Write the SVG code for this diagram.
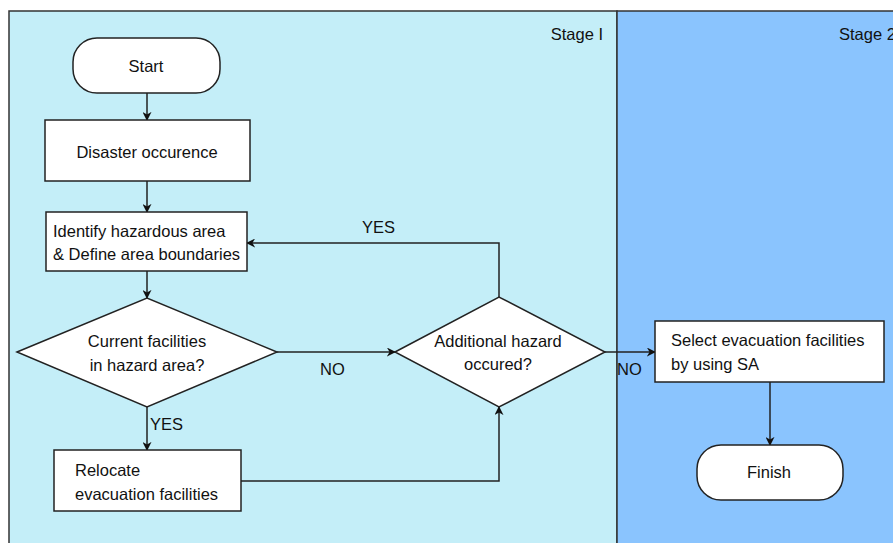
<svg xmlns="http://www.w3.org/2000/svg" width="893" height="543" viewBox="0 0 893 543">
<style>
text{font-family:"Liberation Sans",Arial,sans-serif;font-size:16.5px;fill:#111}
.c{text-anchor:middle}
.n{fill:#fff;stroke:#222;stroke-width:1.5}
.e{fill:none;stroke:#222;stroke-width:1.5}
</style>
<defs>
<marker id="a" viewBox="0 0 10 10" refX="9" refY="5" markerWidth="9" markerHeight="9" markerUnits="userSpaceOnUse" orient="auto">
<path d="M0,0 L10,5 L0,10 L3,5 z" fill="#111"/>
</marker>
</defs>
<rect width="893" height="543" fill="#fff"/>
<g id="lanes">
<rect x="9" y="11" width="608" height="540" fill="#C4EEF8" stroke="#333" stroke-width="1.5"/>
<rect x="617" y="11" width="290" height="540" fill="#8AC4FE" stroke="#333" stroke-width="1.5"/>
<text x="603" y="40" text-anchor="end">Stage I</text>
<text x="839" y="40">Stage 2</text>
</g>
<g id="edges">
<path class="e" d="M147,93 V120" marker-end="url(#a)"/>
<path class="e" d="M147,181 V212" marker-end="url(#a)"/>
<path class="e" d="M147,271 V298" marker-end="url(#a)"/>
<path class="e" d="M147,407 V450" marker-end="url(#a)"/>
<path class="e" d="M277,352 H395" marker-end="url(#a)"/>
<path class="e" d="M241,481 H499 V407" marker-end="url(#a)"/>
<path class="e" d="M499,297 V243 H247" marker-end="url(#a)"/>
<path class="e" d="M605,352 H655" marker-end="url(#a)"/>
<path class="e" d="M770,382 V445" marker-end="url(#a)"/>
<text x="150" y="430">YES</text>
<text x="320" y="375">NO</text>
<text x="362" y="233">YES</text>
<text x="617" y="375">NO</text>
</g>
<g id="start">
<rect class="n" x="73" y="38" width="147" height="55" rx="24"/>
<text class="c" x="146" y="72">Start</text>
</g>
<g id="disaster">
<rect class="n" x="45" y="120" width="205" height="61"/>
<text class="c" x="147" y="158">Disaster occurence</text>
</g>
<g id="identify">
<rect class="n" x="46" y="212" width="201" height="59"/>
<text x="53" y="237">Identify hazardous area</text>
<text x="53" y="260">&amp; Define area boundaries</text>
</g>
<g id="current">
<polygon class="n" points="17,352 147,298 277,352 147,407"/>
<text class="c" x="147" y="347">Current facilities</text>
<text class="c" x="147" y="371">in hazard area?</text>
</g>
<g id="relocate">
<rect class="n" x="54" y="450" width="187" height="61"/>
<text x="75" y="476">Relocate</text>
<text x="75" y="500">evacuation facilities</text>
</g>
<g id="additional">
<polygon class="n" points="395,352 499,297 605,352 499,407"/>
<text class="c" x="498" y="347">Additional hazard</text>
<text class="c" x="498" y="370">occured?</text>
</g>
<g id="select">
<rect class="n" x="655" y="321" width="229" height="61"/>
<text x="671" y="346">Select evacuation facilities</text>
<text x="671" y="370">by using SA</text>
</g>
<g id="finish">
<rect class="n" x="697" y="445" width="146" height="55" rx="24"/>
<text class="c" x="769" y="478">Finish</text>
</g>
</svg>
